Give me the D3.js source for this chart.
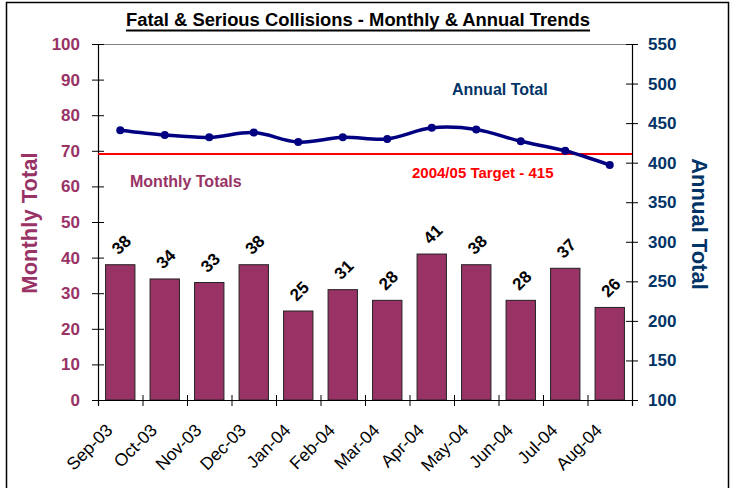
<!DOCTYPE html>
<html>
<head>
<meta charset="utf-8">
<script src="https://cdn.jsdelivr.net/npm/d3@7"></script>
<style>
  body { margin: 0; background: white; }
  text { font-family: "Liberation Sans", Arial, sans-serif; }
</style>
</head>
<body>
<svg id="chart" width="731" height="488"></svg>
<script>
// data
var months = ["Sep-03", "Oct-03", "Nov-03", "Dec-03", "Jan-04", "Feb-04",
              "Mar-04", "Apr-04", "May-04", "Jun-04", "Jul-04", "Aug-04"];
var monthly = [38, 34, 33, 38, 25, 31, 28, 41, 38, 28, 37, 26];
var annual = [441, 435, 432, 438, 426, 432, 430, 444, 442, 427, 415, 397];
var target_line = 411; // drawn just under the 415 label in the original
var left_ticks = [0, 10, 20, 30, 40, 50, 60, 70, 80, 90, 100];
var right_ticks = [100, 150, 200, 250, 300, 350, 400, 450, 500, 550];

var maroon = "#993366";
var navy = "#003366";
var line_col = "#000080";

// plot area (note: "top" is taken by window.top, so prefix these)
var plot_left = 98, plot_right = 632, plot_top = 44, plot_bottom = 400;

var svg = d3.select("#chart");

// outer frame
svg.append("rect")
  .attr("x", 6.5).attr("y", 2.5)
  .attr("width", 722).attr("height", 500)
  .attr("fill", "none").attr("stroke", "#000").attr("stroke-width", 1.5);

var x = d3.scaleBand().domain(months).range([plot_left, plot_right])
  .paddingInner(0.34).paddingOuter(0.17);
var xi = d3.scaleLinear().domain([0, 12]).range([plot_left, plot_right]);
var yL = d3.scaleLinear().domain([0, 100]).range([plot_bottom, plot_top]);
var yR = d3.scaleLinear().domain([100, 550]).range([plot_bottom, plot_top]);

function cx(i) { return x(months[i]) + x.bandwidth() / 2; }

// top border of plot area
svg.append("line")
  .attr("x1", plot_left).attr("x2", plot_right)
  .attr("y1", plot_top + 0.5).attr("y2", plot_top + 0.5)
  .attr("stroke", "#808080").attr("stroke-width", 1);

// bars
svg.selectAll("rect.bar").data(monthly).enter().append("rect")
  .attr("class", "bar")
  .attr("x", function(d, i) { return x(months[i]); })
  .attr("y", function(d) { return yL(d); })
  .attr("width", x.bandwidth())
  .attr("height", function(d) { return plot_bottom - yL(d); })
  .attr("fill", maroon)
  .attr("stroke", "#222").attr("stroke-width", 1);

// bar value labels
svg.selectAll("text.val").data(monthly).enter().append("text")
  .attr("class", "val")
  .attr("transform", function(d, i) {
    return "translate(" + (cx(i) + 1) + "," + (yL(d) - 20) + ") rotate(-45)";
  })
  .attr("text-anchor", "middle").attr("dy", "0.35em")
  .attr("font-size", 17).attr("font-weight", "bold").attr("fill", "#000")
  .text(function(d) { return d; });

// left axis
var gL = svg.append("g").attr("transform", "translate(" + plot_left + ",0)")
  .call(d3.axisLeft(yL).tickValues(left_ticks).tickSize(6).tickPadding(12));
gL.select(".domain").attr("stroke", "#000").attr("stroke-width", 1.2);
gL.selectAll(".tick line").attr("x1", 6).attr("x2", -6).attr("stroke", "#000");
gL.selectAll(".tick text")
  .attr("font-size", 17).attr("font-weight", "bold").attr("fill", maroon)
  .attr("font-family", "Liberation Sans, Arial, sans-serif");

// right axis
var gR = svg.append("g").attr("transform", "translate(" + plot_right + ",0)")
  .call(d3.axisRight(yR).tickValues(right_ticks).tickSize(6).tickPadding(10));
gR.select(".domain").attr("stroke", "#000").attr("stroke-width", 1.2);
gR.selectAll(".tick line").attr("x1", -6).attr("x2", 6).attr("stroke", "#000");
gR.selectAll(".tick text")
  .attr("font-size", 17).attr("font-weight", "bold").attr("fill", navy)
  .attr("font-family", "Liberation Sans, Arial, sans-serif");

// bottom axis, ticks between categories
var gB = svg.append("g").attr("transform", "translate(0," + plot_bottom + ")")
  .call(d3.axisBottom(xi).ticks(12).tickSize(6).tickFormat(""));
gB.select(".domain").attr("stroke", "#000").attr("stroke-width", 1.2);
gB.selectAll(".tick line").attr("y1", -5).attr("y2", 6).attr("stroke", "#000");

// month labels
svg.selectAll("text.mon").data(months).enter().append("text")
  .attr("class", "mon")
  .attr("transform", function(d, i) {
    return "translate(" + (cx(i) - 11) + "," + (plot_bottom + 27) + ") rotate(-45)";
  })
  .attr("text-anchor", "end").attr("dy", "0.35em")
  .attr("font-size", 17.5).attr("fill", "#000")
  .text(function(d) { return d; });

// target line
svg.append("line")
  .attr("x1", plot_left).attr("x2", plot_right)
  .attr("y1", yR(target_line)).attr("y2", yR(target_line))
  .attr("stroke", "#ff0000").attr("stroke-width", 2);

// annual line (smoothed)
var line = d3.line()
  .x(function(d, i) { return cx(i); })
  .y(function(d) { return yR(d); })
  .curve(d3.curveCatmullRom.alpha(0.5));
svg.append("path").datum(annual)
  .attr("d", line).attr("fill", "none")
  .attr("stroke", line_col).attr("stroke-width", 3.5);
svg.selectAll("circle.pt").data(annual).enter().append("circle")
  .attr("class", "pt")
  .attr("cx", function(d, i) { return cx(i); })
  .attr("cy", function(d) { return yR(d); })
  .attr("r", 4).attr("fill", line_col);

// in-plot labels
svg.append("text").attr("x", 452).attr("y", 95)
  .attr("font-size", 16).attr("font-weight", "bold").attr("fill", navy)
  .text("Annual Total");
svg.append("text").attr("x", 130).attr("y", 187)
  .attr("font-size", 16).attr("font-weight", "bold").attr("fill", maroon)
  .text("Monthly Totals");
svg.append("text").attr("x", 412).attr("y", 178)
  .attr("font-size", 15).attr("font-weight", "bold").attr("fill", "#ff0000")
  .text("2004/05 Target - 415");

// axis titles
svg.append("text")
  .attr("transform", "translate(37,223) rotate(-90)")
  .attr("text-anchor", "middle")
  .attr("font-size", 22).attr("font-weight", "bold").attr("fill", maroon)
  .text("Monthly Total");
svg.append("text")
  .attr("transform", "translate(692,224) rotate(90)")
  .attr("text-anchor", "middle")
  .attr("font-size", 22).attr("font-weight", "bold").attr("fill", navy)
  .text("Annual Total");

// title
var title = svg.append("text").attr("x", 358).attr("y", 26)
  .attr("text-anchor", "middle")
  .attr("font-size", 18).attr("font-weight", "bold").attr("fill", "#000")
  .attr("textLength", 464).attr("lengthAdjust", "spacingAndGlyphs")
  .text("Fatal & Serious Collisions - Monthly & Annual Trends");
var tb = title.node().getBBox();
svg.append("line")
  .attr("x1", tb.x).attr("x2", tb.x + tb.width)
  .attr("y1", 30.5).attr("y2", 30.5)
  .attr("stroke", "#000").attr("stroke-width", 1.8);
</script>
</body>
</html>
